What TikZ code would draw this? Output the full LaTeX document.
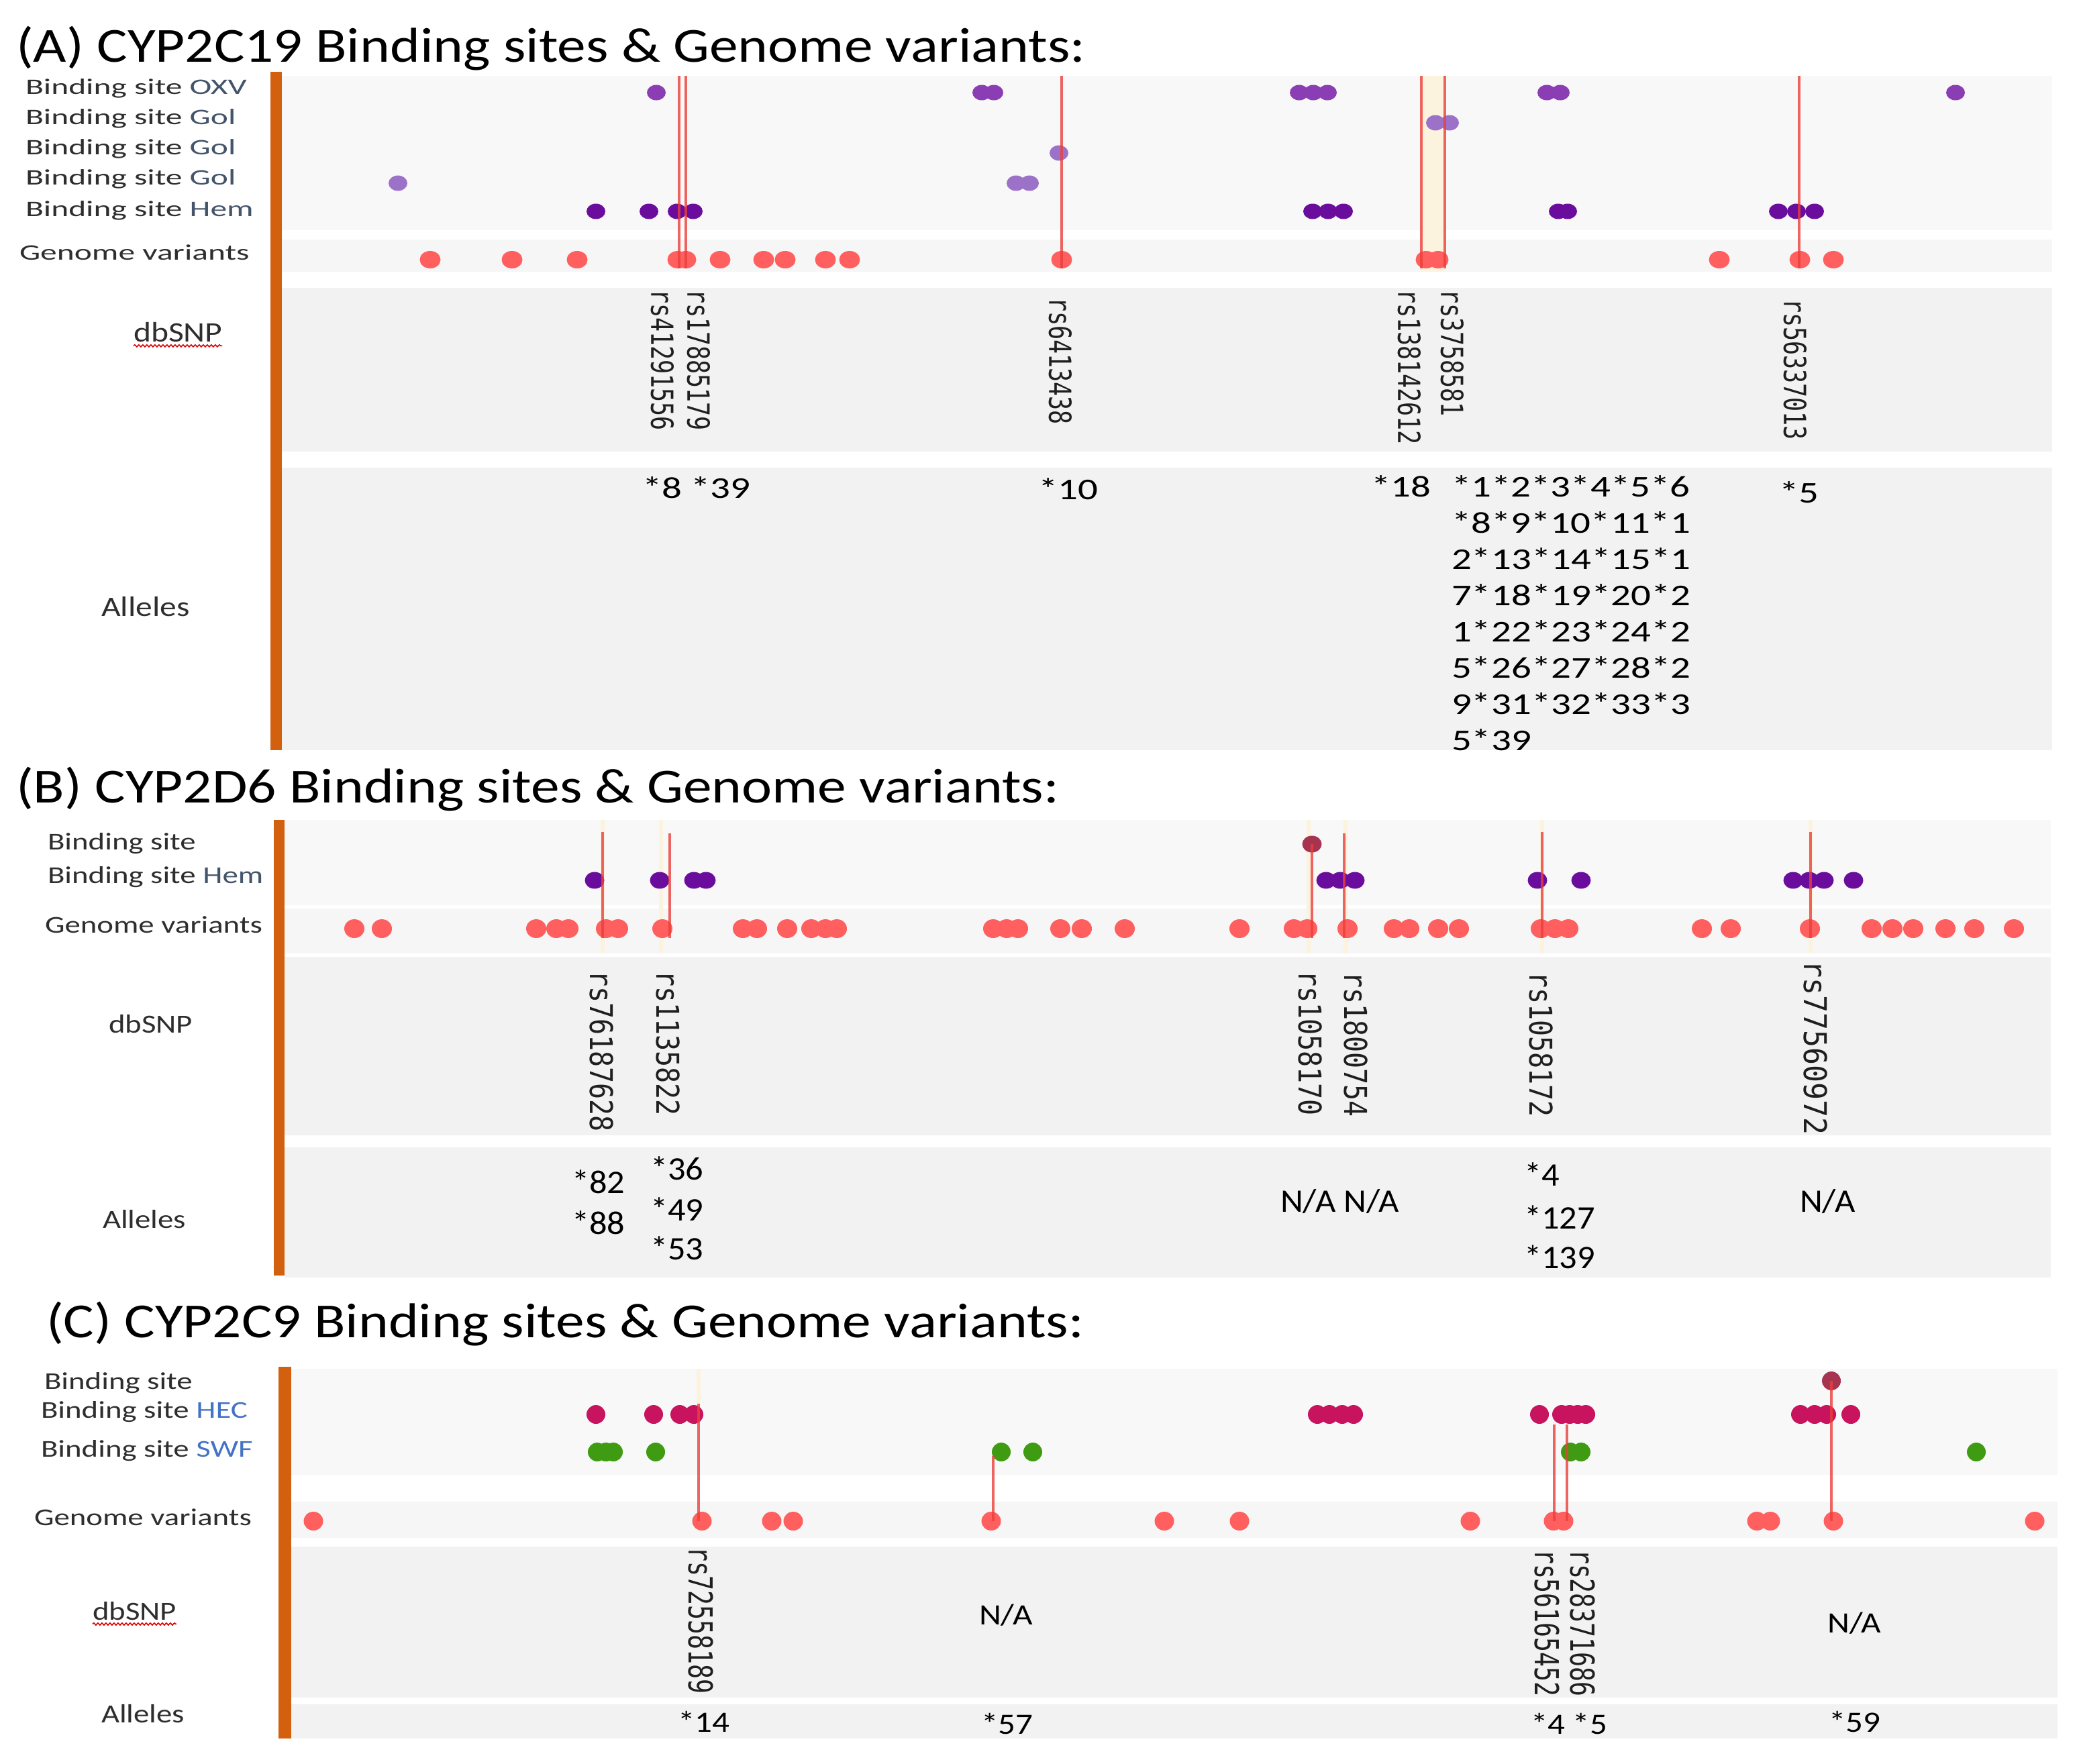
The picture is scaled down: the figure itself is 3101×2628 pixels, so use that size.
\documentclass[tikz,border=0pt]{standalone}
\usepackage{fontspec}
\usepackage{graphicx}
\setmainfont{Carlito}
\newfontfamily\rsfam{DejaVu Sans Mono}
\usetikzlibrary{shapes.geometric,decorations.pathmorphing}
\definecolor{cBar}{HTML}{D2600E}
\definecolor{cPan}{HTML}{F8F8F8}
\definecolor{cBand}{HTML}{F6F6F6}
\definecolor{cBox}{HTML}{F2F2F2}
\definecolor{cOXV}{HTML}{8B3DB3}
\definecolor{cGol}{HTML}{9C72C9}
\definecolor{cHem}{HTML}{6A0D9C}
\definecolor{cVar}{HTML}{FF5F5F}
\definecolor{cMar}{HTML}{A63450}
\definecolor{cHEC}{HTML}{C8145E}
\definecolor{cSWF}{HTML}{3E9B12}
\definecolor{cLine}{HTML}{EA3F3A}
\definecolor{cCream}{HTML}{FCF3DE}
\definecolor{cLab}{HTML}{2E2E2E}
\definecolor{cSufA}{HTML}{44546A}
\definecolor{cSufC}{HTML}{4472C4}
\newcommand\TtlTxt[1]{\scalebox{1.17}[1]{\fontsize{73}{88}\selectfont #1}}
\newcommand\LabA[1]{\scalebox{1.5}[1]{\fontsize{33}{40}\selectfont #1}}
\newcommand\LabAb[1]{\scalebox{1.18}[1]{\fontsize{42}{50}\selectfont #1}}
\newcommand\LabB[1]{\scalebox{1.3}[1]{\fontsize{36}{43}\selectfont #1}}
\newcommand\LabBb[1]{\scalebox{1.2}[1]{\fontsize{39}{47}\selectfont #1}}
\newcommand\AlA[1]{\scalebox{1.31}[1]{\fontsize{45}{54}\selectfont #1}}
\newcommand\AlB[1]{\scalebox{1.07}[1]{\fontsize{49}{59}\selectfont #1}}
\newcommand\AlC[1]{\scalebox{1.16}[1]{\fontsize{44}{53}\selectfont #1}}
\newcommand\RsA[1]{\scalebox{1}[1.3]{\rsfam\fontsize{35}{42}\selectfont #1}}
\newcommand\RsB[1]{\scalebox{1}[1.17]{\rsfam\fontsize{40}{48}\selectfont #1}}
\newcommand\RsC[1]{\scalebox{1}[1.35]{\rsfam\fontsize{36.5}{44}\selectfont #1}}
\tikzset{
  lab/.style={inner sep=0pt, outer sep=0pt, text=cLab, anchor=mid west},
  ttl/.style={inner sep=0pt, outer sep=0pt, anchor=base west, text=black},
  rslab/.style={inner sep=0pt, outer sep=0pt, anchor=west, rotate=-90, text=black!88},
  al/.style={inner sep=0pt, outer sep=0pt, anchor=base west, text=black},
  dotA/.style={ellipse, inner sep=0pt, outer sep=0pt, minimum width=28pt, minimum height=23pt},
  varA/.style={ellipse, inner sep=0pt, outer sep=0pt, fill=cVar, minimum width=31pt, minimum height=26pt},
  dotB/.style={ellipse, inner sep=0pt, outer sep=0pt, minimum width=29pt, minimum height=25pt},
  varB/.style={ellipse, inner sep=0pt, outer sep=0pt, fill=cVar, minimum width=30pt, minimum height=28pt},
  dotC/.style={ellipse, inner sep=0pt, outer sep=0pt, minimum width=28pt, minimum height=28pt},
  varC/.style={ellipse, inner sep=0pt, outer sep=0pt, fill=cVar, minimum width=29pt, minimum height=28pt},
  snp/.style={draw=cLine, line width=4pt, opacity=0.8},
  creamline/.style={draw=cCream, line width=6pt},
  wavy/.style={draw=red!85!black, line width=1.6pt, decorate, decoration={snake, amplitude=1.6pt, segment length=6pt}}
}
\begin{document}
\begin{tikzpicture}[x=1pt,y=-1pt]
\useasboundingbox[fill=white] (0,0) rectangle (3101,2628);

% ---------------- Panel A ----------------
\fill[cPan] (420,113) rectangle (3058,343);
\fill[cBand] (420,357) rectangle (3058,405);
\fill[cBox] (420,429) rectangle (3058,673);
\fill[cBox] (420,697) rectangle (3058,1118);
\fill[cBar] (403,107) rectangle (420,1118);
\fill[cCream] (2118,113) rectangle (2153,405);

\node[ttl] (tA) at (24,93) {\TtlTxt{(A) CYP2C19 Binding sites \& Genome variants:}};

\node[lab] (lA1) at (38,138) {\LabA{Binding site \textcolor{cSufA}{OXV}}};
\node[lab] (lA2) at (38,183) {\LabA{Binding site \textcolor{cSufA}{Gol}}};
\node[lab] (lA3) at (38,228) {\LabA{Binding site \textcolor{cSufA}{Gol}}};
\node[lab] (lA4) at (38,273) {\LabA{Binding site \textcolor{cSufA}{Gol}}};
\node[lab] (lA5) at (38,320) {\LabA{Binding site \textcolor{cSufA}{Hem}}};
\node[lab] (lA6) at (29,385) {\LabA{Genome variants}};
\node[lab] (lA7) at (199,507) {\LabAb{dbSNP}};
\node[lab] (lA8) at (151,916) {\LabAb{Alleles}};
\draw[wavy] ([yshift=-6pt]lA7.base west) -- ([yshift=-6pt]lA7.base east);

\foreach \x [count=\i] in {978,1463,1481,1936,1957,1978,2305,2325,2914}
  \node[dotA, fill=cOXV] (aO\i) at (\x,138) {};
\foreach \x [count=\i] in {2139,2160}
  \node[dotA, fill=cGol] (aGa\i) at (\x,183) {};
\foreach \x [count=\i] in {1578}
  \node[dotA, fill=cGol] (aGb\i) at (\x,228) {};
\foreach \x [count=\i] in {593,1514,1534}
  \node[dotA, fill=cGol] (aGc\i) at (\x,273) {};
\foreach \x [count=\i] in {888,967,1009,1033,1956,1979,2002,2322,2336,2650,2677,2704}
  \node[dotA, fill=cHem] (aH\i) at (\x,315) {};
\foreach \x [count=\i] in {641,763,860,1010,1022,1073,1138,1170,1230,1266,1582,2125,2143,2562,2682,2732}
  \node[varA] (aV\i) at (\x,387) {};

\coordinate (aL1) at (1012,113);
\coordinate (aL2) at (1022,113);
\coordinate (aL3) at (1582,113);
\coordinate (aL4) at (2118,113);
\coordinate (aL5) at (2153,113);
\coordinate (aL6) at (2681,113);
\draw[snp] (aL1) -- (aL1 |- aV4.south);
\draw[snp] (aL2) -- (aL2 |- aV5.south);
\draw[snp] (aL3) -- (aL3 |- aV11.south);
\draw[snp] (aL4) -- (aL4 |- aV12.south);
\draw[snp] (aL5) -- (aL5 |- aV13.south);
\draw[snp] (aL6) -- (aL6 |- aV15.south);

\node[rslab] (rA1) at (987,431) {\RsA{rs41291556}};
\node[rslab] (rA2) at (1041,431) {\RsA{rs17885179}};
\node[rslab] (rA3) at (1580,443) {\RsA{rs6413438}};
\node[rslab] (rA4) at (2100,431) {\RsA{rs138142612}};
\node[rslab] (rA5) at (2164,431) {\RsA{rs3758581}};
\node[rslab] (rA6) at (2675,445) {\RsA{rs56337013}};

\node[al] (alA1) at (957,742) {\AlA{*8 *39}};
\node[al] (alA2) at (1547,744) {\AlA{*10}};
\node[al] (alA3) at (2043,740) {\AlA{*18}};
\node[al] (alA4) at (2651,749) {\AlA{*5}};
\foreach \s [count=\i] in {{*1*2*3*4*5*6},{*8*9*10*11*1},{2*13*14*15*1},{7*18*19*20*2},{1*22*23*24*2},{5*26*27*28*2},{9*31*32*33*3},{5*39}}
  \node[al] (alAb\i) at (2163,{740+54*(\i-1)}) {\AlA{\s}};

% ---------------- Panel B ----------------
\fill[cPan] (424,1222) rectangle (3056,1349);
\fill[cBand] (424,1354) rectangle (3056,1421);
\fill[cBox] (424,1426) rectangle (3056,1692);
\fill[cBox] (424,1710) rectangle (3056,1904);
\fill[cBar] (408,1222) rectangle (424,1901);
\foreach \x in {898,985,1950,2005,2298,2698}
  \draw[creamline] (\x,1222) -- (\x,1421);

\node[ttl] (tB) at (24,1196) {\TtlTxt{(B) CYP2D6 Binding sites \& Genome variants:}};

\node[lab] (lB1) at (71,1264) {\LabB{Binding site}};
\node[lab] (lB2) at (71,1314) {\LabB{Binding site \textcolor{cSufA}{Hem}}};
\node[lab] (lB3) at (67,1388) {\LabB{Genome variants}};
\node[lab] (lB4) at (162,1537) {\LabBb{dbSNP}};
\node[lab] (lB5) at (153,1828) {\LabBb{Alleles}};

\node[dotB, fill=cMar] (bM) at (1955,1258) {};
\foreach \x [count=\i] in {886,983,1034,1052,1976,1997,2019,2291,2356,2672,2696,2718,2762}
  \node[dotB, fill=cHem] (bH\i) at (\x,1312) {};
\foreach \x [count=\i] in {528,569,799,829,847,903,921,987,1107,1128,1173,1209,1230,1247,1480,1500,1517,1580,1612,1676,1847,1928,1948,2008,2077,2100,2143,2174,2296,2317,2337,2536,2579,2697,2789,2820,2851,2899,2942,3001}
  \node[varB] (bV\i) at (\x,1384) {};

\coordinate (bL1) at (898,1240);
\coordinate (bL2) at (998,1242);
\coordinate (bL4) at (2003,1242);
\coordinate (bL5) at (2298,1240);
\coordinate (bL6) at (2698,1240);
\draw[snp] (bL1) -- (bL1 |- bV6.south);
\draw[snp] (bL2) -- (bL2 |- bV8.south);
\draw[snp] (bM.center) -- (bM.center |- bV23.south);
\draw[snp] (bL4) -- (bL4 |- bV24.south);
\draw[snp] (bL5) -- (bL5 |- bV29.south);
\draw[snp] (bL6) -- (bL6 |- bV34.south);

\node[rslab] (rB1) at (897,1446) {\RsB{rs76187628}};
\node[rslab] (rB2) at (996,1446) {\RsB{rs1135822}};
\node[rslab] (rB3) at (1953,1446) {\RsB{rs1058170}};
\node[rslab] (rB4) at (2021,1448) {\RsB{rs1800754}};
\node[rslab] (rB5) at (2297,1448) {\RsB{rs1058172}};
\node[rslab] (rB6) at (2705,1431) {\scalebox{1.08}[1]{\RsB{rs77560972}}};

\node[al] (alB1) at (852,1778) {\AlB{*82}};
\node[al] (alB2) at (852,1839) {\AlB{*88}};
\node[al] (alB3) at (969,1758) {\AlB{*36}};
\node[al] (alB4) at (969,1819) {\AlB{*49}};
\node[al] (alB5) at (969,1877) {\AlB{*53}};
\node[al] (alB6) at (1908,1806) {\AlB{N/A N/A}};
\node[al] (alB7) at (2271,1767) {\AlB{*4}};
\node[al] (alB8) at (2271,1831) {\AlB{*127}};
\node[al] (alB9) at (2271,1890) {\AlB{*139}};
\node[al] (alB10) at (2682,1806) {\AlB{N/A}};

% ---------------- Panel C ----------------
\fill[cPan] (434,2040) rectangle (3066,2198);
\fill[cBand] (434,2238) rectangle (3066,2292);
\fill[cBox] (434,2305) rectangle (3066,2530);
\fill[cBox] (434,2540) rectangle (3066,2591);
\fill[cBar] (415,2037) rectangle (434,2591);
\draw[creamline] (1041,2040) -- (1041,2092);

\node[ttl] (tC) at (69,1993) {\TtlTxt{(C) CYP2C9 Binding sites \& Genome variants:}};

\node[lab] (lC1) at (66,2068) {\LabB{Binding site}};
\node[lab] (lC2) at (61,2111) {\LabB{Binding site \textcolor{cSufC}{HEC}}};
\node[lab] (lC3) at (61,2169) {\LabB{Binding site \textcolor{cSufC}{SWF}}};
\node[lab] (lC4) at (51,2271) {\LabB{Genome variants}};
\node[lab] (lC5) at (138,2412) {\LabBb{dbSNP}};
\node[lab] (lC6) at (151,2565) {\LabBb{Alleles}};
\draw[wavy] ([yshift=-6pt]lC5.base west) -- ([yshift=-6pt]lC5.base east);

\node[dotC, fill=cMar] (cM) at (2729,2058) {};
\foreach \x [count=\i] in {888,974,1013,1034,1963,1981,2000,2017,2294,2327,2339,2351,2363,2683,2704,2722,2758}
  \node[dotC, fill=cHEC] (cH\i) at (\x,2108) {};
\foreach \x [count=\i] in {890,903,914,977,1492,1539,2340,2356,2945}
  \node[dotC, fill=cSWF] (cS\i) at (\x,2164) {};
\foreach \x [count=\i] in {467,1046,1150,1182,1477,1735,1847,2191,2315,2330,2618,2638,2732,3032}
  \node[varC] (cV\i) at (\x,2267) {};

\coordinate (cL1) at (1041,2092);
\coordinate (cL2) at (1480,2170);
\coordinate (cL3) at (2316,2123);
\coordinate (cL4) at (2335,2123);
\draw[snp] (cL1) -- (cL1 |- cV2.center);
\draw[snp] (cL2) -- (cL2 |- cV5.center);
\draw[snp] (cL3) -- (cL3 |- cV9.center);
\draw[snp] (cL4) -- (cL4 |- cV10.center);
\draw[snp] (cM.center) -- (cM.center |- cV13.center);

\node[rslab] (rC1) at (1044,2305) {\RsC{rs72558189}};
\node[rslab] (rC2) at (2305,2309) {\RsC{rs56165452}};
\node[rslab] (rC3) at (2358,2309) {\RsC{rs28371686}};
\node[al] (dC1) at (1459,2421) {\AlC{N/A}};
\node[al] (dC2) at (2723,2433) {\AlC{N/A}};

\node[al] (alC1) at (1010,2581) {\AlC{*14}};
\node[al] (alC2) at (1462,2584) {\AlC{*57}};
\node[al] (alC3) at (2281,2584) {\AlC{*4 *5}};
\node[al] (alC4) at (2725,2581) {\AlC{*59}};
\end{tikzpicture}
\end{document}
